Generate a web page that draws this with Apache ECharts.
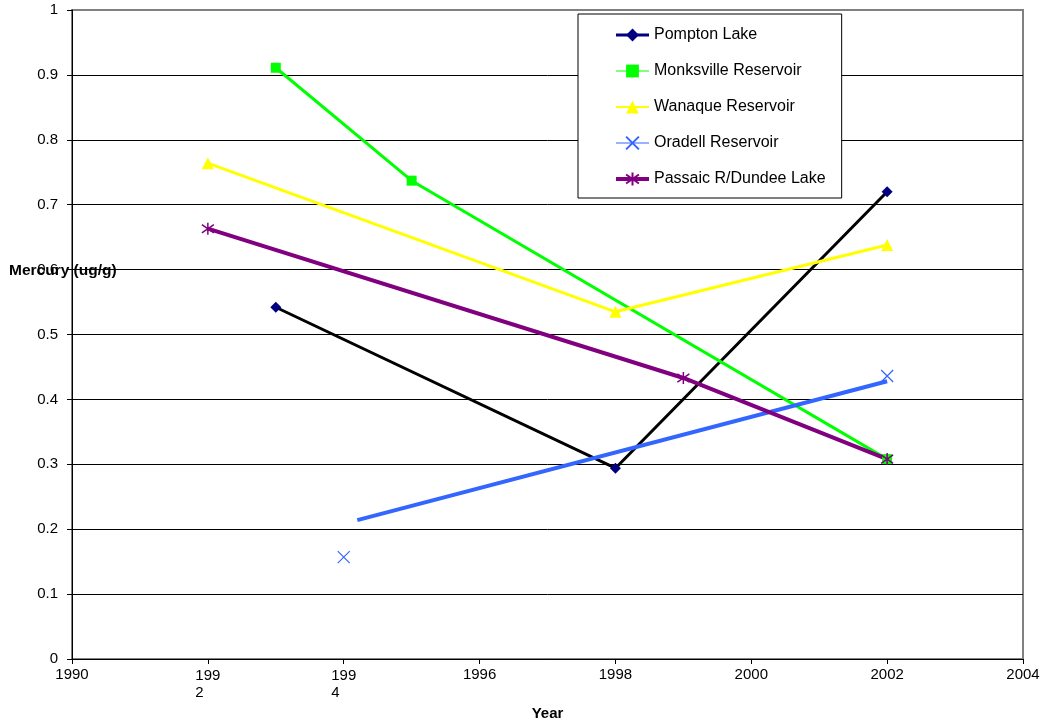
<!DOCTYPE html>
<html><head><meta charset="utf-8">
<script src="https://cdn.jsdelivr.net/npm/echarts@6/dist/echarts.min.js"></script>
<style>html,body{margin:0;padding:0;background:#fff}#c{width:1044px;height:721px}</style>
</head><body><div id="c"></div><script>
// ---- data ----
const seriesNames = ['Pompton Lake','Monksville Reservoir','Wanaque Reservoir','Oradell Reservoir','Passaic R/Dundee Lake'];
const pomptonYears = [1993, 1998, 2002];
const pomptonHg = [0.542, 0.294, 0.720];
const monksvilleYears = [1993, 1995, 2002];
const monksvilleHg = [0.911, 0.737, 0.308];
const wanaqueYears = [1992, 1998, 2002];
const wanaqueHg = [0.764, 0.535, 0.638];
const oradellYears = [1994, 2002];
const oradellHg = [0.157, 0.436];
const oradellLineYears = [1994.2, 2002];
const oradellLineHg = [0.214, 0.428];
const passaicYears = [1992, 1999, 2002];
const passaicHg = [0.663, 0.433, 0.308];
const wrappedTicks = { 1992: ['199', '2'], 1994: ['199', '4'] };

const pair = (xs, ys) => xs.map((x, i) => [x, ys[i]]);
const FONT = '"Liberation Sans", Arial, sans-serif';
const X_PATH = 'path://M0,0L10,10M10,0L0,10';
const STAR_PATH = 'path://M5,0L5,10M0,1.5L10,8.5M10,1.5L0,8.5';

const chart = echarts.init(document.getElementById('c'), null, { renderer: 'canvas' });
const gridColors = ['#000','#000','#000','#000','#000','#000','#000','#000','#000','#000','#808080'];

chart.setOption({
  animation: false,
  backgroundColor: '#fff',
  textStyle: { fontFamily: FONT },
  grid: { left: 72, right: 21, top: 10, bottom: 62, outerBoundsMode: 'none', containLabel: false,
          show: true, borderColor: '#808080', borderWidth: 2, backgroundColor: 'transparent' },
  xAxis: {
    type: 'value', min: 1990, max: 2004, interval: 2,
    axisLine: { show: true, lineStyle: { color: '#000', width: 1 } },
    axisTick: { show: true, length: 5, lineStyle: { color: '#000' } },
    splitLine: { show: false },
    axisLabel: {
      color: '#000', fontSize: 15, fontFamily: FONT, margin: 8,
      formatter: v => wrappedTicks[v] ? '{l|' + wrappedTicks[v][0] + '}\n{l|' + wrappedTicks[v][1] + '}' : String(v),
      rich: { l: { align: 'left', fontSize: 15, fontFamily: FONT, color: '#000', lineHeight: 17 } }
    },
    name: 'Year', nameLocation: 'middle', nameGap: 47,
    nameTextStyle: { color: '#000', fontSize: 15, fontWeight: 'bold', fontFamily: FONT }
  },
  yAxis: {
    type: 'value', min: 0, max: 1, interval: 0.1,
    axisLine: { show: true, lineStyle: { color: '#000', width: 1 } },
    axisTick: { show: true, length: 5, lineStyle: { color: '#000' } },
    splitLine: { show: true, lineStyle: { color: gridColors, width: 1 } },
    axisLabel: { color: '#000', fontSize: 15, fontFamily: FONT, margin: 14 }
  },
  graphic: [{
    type: 'text', left: 9, top: 263, z: 100,
    style: { text: 'Mercury (ug/g)', fill: '#000', font: 'bold 15.5px ' + FONT }
  }],
  legend: {
    orient: 'vertical', left: 578, top: 14,
    padding: [13, 16, 11, 36],
    itemWidth: 33, itemHeight: 16, itemGap: 20,
    backgroundColor: '#fff', borderColor: '#000', borderWidth: 1,
    textStyle: { color: '#000', fontSize: 16, fontFamily: FONT },
    data: [
      { name: seriesNames[0], lineStyle: { color: '#000080', width: 3 } },
      { name: seriesNames[1], lineStyle: { color: '#00ff00', width: 1 } },
      { name: seriesNames[2], lineStyle: { color: '#ffff00', width: 2 } },
      { name: seriesNames[3], lineStyle: { color: '#3366ff', width: 1, opacity: 1 } },
      { name: seriesNames[4], lineStyle: { color: '#800080', width: 4 } }
    ]
  },
  series: [
    { name: seriesNames[0], type: 'line', data: pair(pomptonYears, pomptonHg),
      symbol: 'diamond', symbolSize: 11,
      itemStyle: { color: '#000080' }, lineStyle: { color: '#000', width: 3 } },
    { name: seriesNames[1], type: 'line', data: pair(monksvilleYears, monksvilleHg),
      symbol: 'rect', symbolSize: 10,
      itemStyle: { color: '#00ff00' }, lineStyle: { color: '#00ff00', width: 3 } },
    { name: seriesNames[2], type: 'line', data: pair(wanaqueYears, wanaqueHg),
      symbol: 'triangle', symbolSize: 12,
      itemStyle: { color: '#ffff00' }, lineStyle: { color: '#ffff00', width: 3 } },
    { name: 'Oradell trend', type: 'line', data: pair(oradellLineYears, oradellLineHg),
      symbol: 'none', lineStyle: { color: '#3366ff', width: 4 }, itemStyle: { color: '#3366ff' } },
    { name: seriesNames[3], type: 'line', data: pair(oradellYears, oradellHg),
      symbol: X_PATH, symbolSize: 12,
      itemStyle: { color: 'transparent', borderColor: '#3366ff', borderWidth: 1.2 },
      lineStyle: { color: '#3366ff', width: 0, opacity: 0 } },
    { name: seriesNames[4], type: 'line', data: pair(passaicYears, passaicHg),
      symbol: STAR_PATH, symbolSize: 12,
      itemStyle: { color: 'transparent', borderColor: '#800080', borderWidth: 1.5 },
      lineStyle: { color: '#800080', width: 4 } }
  ]
});
</script></body></html>
